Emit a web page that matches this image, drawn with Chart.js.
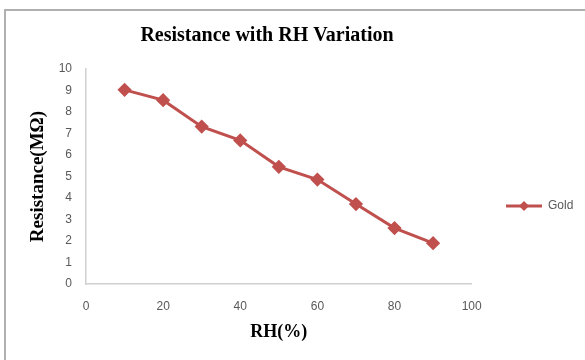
<!DOCTYPE html>
<html>
<head>
<meta charset="utf-8">
<script src="https://cdn.jsdelivr.net/npm/chart.js@4.4.1/dist/chart.umd.min.js"></script>
<style>
  html, body { margin: 0; padding: 0; background: #fff; }
  #frame {
    position: absolute; left: 4px; top: 9px; width: 590px; height: 360px;
    border-top: 2px solid #b0b0b0; border-left: 2px solid #b0b0b0;
  }
  #wrap { position: absolute; left: 0; top: 0; width: 585px; height: 360px; }
</style>
</head>
<body>
<div id="frame"></div>
<div id="wrap"><canvas id="chart"></canvas></div>
<script>
// values
const rhValues = [10, 20, 30, 40, 50, 60, 70, 80, 90];
const goldResistance = [9.03, 8.55, 7.32, 6.68, 5.45, 4.86, 3.72, 2.60, 1.90];
const seriesName = 'Gold';
const chartTitle = 'Resistance with RH Variation';
const xTitle = 'RH(%)';
const yTitle = 'Resistance(M\u03A9)';

const red = '#C0504D';
const tickColor = '#595959';
const axisColor = '#d0d0d0';
const serif = '"Liberation Serif", "Times New Roman", serif';
const sans = '"Liberation Sans", Arial, sans-serif';

// legend marker: line with a diamond in the middle
function legendMarker() {
    const c = document.createElement('canvas');
    c.width = 36; c.height = 12;
    const g = c.getContext('2d');
    g.strokeStyle = red;
    g.lineWidth = 3;
    g.beginPath(); g.moveTo(0, 6); g.lineTo(36, 6); g.stroke();
    g.fillStyle = red;
    g.beginPath(); g.moveTo(18, 1); g.lineTo(23, 6); g.lineTo(18, 11); g.lineTo(13, 6); g.closePath(); g.fill();
    return c;
}

// nudge title / legend to where Excel put them
const placeBoxes = {
    id: 'placeBoxes',
    afterLayout(chart) {
        const l = chart.legend;
        if (l) {
            const dy = 206 - (l.top + l.bottom) / 2;
            l.top += dy; l.bottom += dy;
            const dx = 500 - l.left;
            l.left += dx; l.right += dx;
        }
        const t = chart.titleBlock;
        if (t) {
            const dx = 267 - (t.left + t.right) / 2;
            t.left += dx; t.right += dx;
        }
    }
};

const points = rhValues.map((x, i) => ({ x: x, y: goldResistance[i] }));

new Chart(document.getElementById('chart'), {
    type: 'line',
    data: {
        datasets: [{
            label: seriesName,
            data: points,
            borderColor: red,
            backgroundColor: red,
            borderWidth: 3,
            pointStyle: 'rectRot',
            pointRadius: 5,
            pointBackgroundColor: red,
            pointBorderColor: red,
            fill: false,
            tension: 0
        }]
    },
    options: {
        responsive: true,
        maintainAspectRatio: false,
        animation: false,
        layout: { padding: { left: 25, right: 30, top: 10, bottom: 10 } },
        plugins: {
            title: {
                display: true,
                text: chartTitle,
                color: '#000',
                font: { family: serif, size: 20, weight: 'bold' },
                padding: { top: 14, bottom: 21 }
            },
            legend: {
                position: 'right',
                labels: {
                    usePointStyle: true,
                    pointStyle: legendMarker(),
                    pointStyleWidth: 36,
                    color: tickColor,
                    font: { family: sans, size: 12 },
                    padding: 6
                }
            },
            tooltip: { enabled: false }
        },
        scales: {
            x: {
                type: 'linear',
                min: 0, max: 100,
                ticks: { stepSize: 20, color: tickColor, padding: 15,
                    font: { family: sans, size: 12 } },
                grid: { display: false, drawTicks: false },
                border: { display: true, color: axisColor, width: 1.5 },
                title: {
                    display: true, text: xTitle, color: '#000',
                    font: { family: serif, size: 18, weight: 'bold' },
                    padding: { top: 4, bottom: 7 }
                },
                afterFit(scale) { scale.height = 66; }
            },
            y: {
                min: 0, max: 10,
                ticks: { stepSize: 1, color: tickColor, padding: 14,
                    font: { family: sans, size: 12 } },
                grid: { display: false, drawTicks: false },
                border: { display: true, color: axisColor, width: 1.5 },
                title: {
                    display: true, text: yTitle, color: '#000',
                    font: { family: serif, size: 19, weight: 'bold' },
                    padding: { top: 2, bottom: 0 }
                },
                afterFit(scale) { scale.width = 61; }
            }
        }
    },
    plugins: [placeBoxes]
});
</script>
</body>
</html>
